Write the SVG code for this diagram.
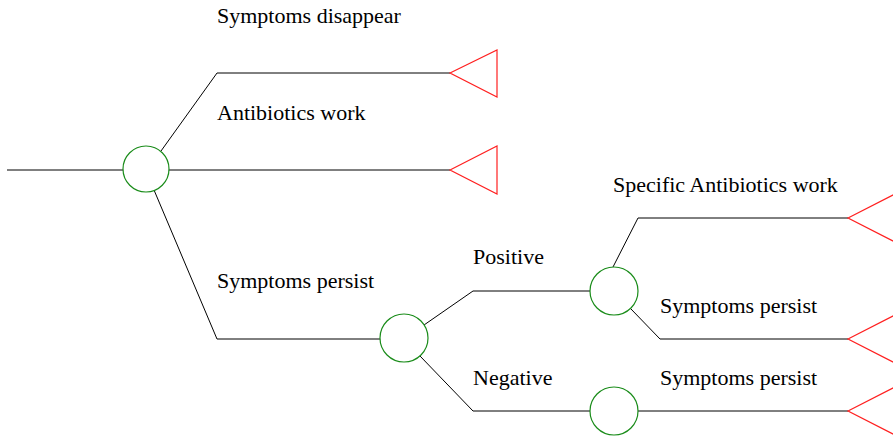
<svg xmlns="http://www.w3.org/2000/svg" width="893" height="439" viewBox="0 0 893 439">
<style>
.c{fill:#fff;stroke:#1a8c1a;stroke-width:1.2}
.t{fill:#fff;stroke:#ff2020;stroke-width:1.2}
.l{fill:none;stroke:#000;stroke-width:1}
text{font-family:"Liberation Serif","Times New Roman",serif;font-size:22px;fill:#000}
</style>
<rect width="893" height="439" fill="#fff"/>
<g id="connectors">
<path class="l" d="M7,170H124"/>
<path class="l" d="M161,151L217,73H450"/>
<path class="l" d="M168,170H450"/>
<path class="l" d="M154,190L217,339H381"/>
<path class="l" d="M424,325L473,291H590"/>
<path class="l" d="M420,356L473,411H590"/>
<path class="l" d="M613,267L638,218H848"/>
<path class="l" d="M631,309L660,339H848"/>
<path class="l" d="M638,411H848"/>
</g>
<g id="n1"><circle class="c" cx="146" cy="169" r="23"/></g>
<g id="n2"><circle class="c" cx="404" cy="338" r="24"/></g>
<g id="n3"><circle class="c" cx="614" cy="291" r="24"/></g>
<g id="n4"><circle class="c" cx="614" cy="411" r="24"/></g>
<g id="e1"><path class="t" d="M450,73L497,50V97Z"/></g>
<g id="e2"><path class="t" d="M450,170L497,146V194Z"/></g>
<g id="e3"><path class="t" d="M848,218L895,194V242Z"/></g>
<g id="e4"><path class="t" d="M848,339L895,315V363Z"/></g>
<g id="e5"><path class="t" d="M848,411L895,387V435Z"/></g>
<g id="labels">
<text x="217" y="23">Symptoms disappear</text>
<text x="217" y="120">Antibiotics work</text>
<text x="217" y="288">Symptoms persist</text>
<text x="473" y="264">Positive</text>
<text x="473" y="385">Negative</text>
<text x="613" y="192">Specific Antibiotics work</text>
<text x="660" y="313">Symptoms persist</text>
<text x="660" y="385">Symptoms persist</text>
</g>
</svg>
